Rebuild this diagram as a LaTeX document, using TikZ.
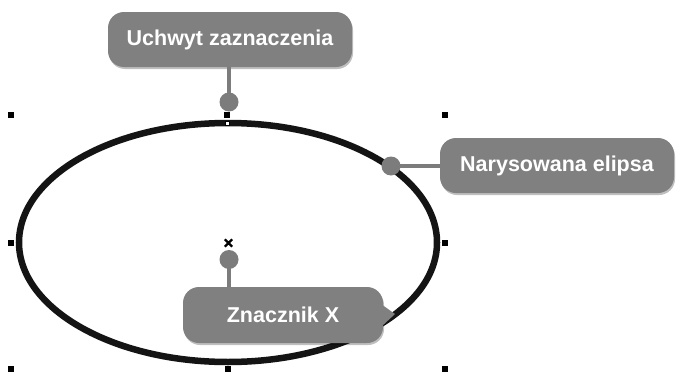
\documentclass[tikz,border=0pt]{standalone}
\usepackage{fontspec}
\setmainfont{Liberation Sans}
\usetikzlibrary{shadows}
\definecolor{callgray}{HTML}{808080}
\definecolor{linegray}{HTML}{7C7C7C}
\definecolor{inkblack}{HTML}{141414}
\tikzset{
  callout/.style={rectangle, rounded corners=16pt, fill=callgray, text=white,
    font=\fontsize{21.5}{24}\selectfont\bfseries, inner sep=0pt, align=center,
    drop shadow={shadow xshift=1pt, shadow yshift=-2pt, opacity=0.25, fill=black}},
  pin dot/.style={circle, fill=linegray, inner sep=0pt, minimum size=19pt},
  pin line/.style={draw=linegray, line width=4.5pt},
  handle/.style={rectangle, fill=black, inner sep=0pt, minimum size=6pt},
}
\begin{document}
\begin{tikzpicture}[x=1pt, y=-1pt]
\useasboundingbox (0,0) rectangle (677,372);
\fill[white] (0,0) rectangle (677,372);
% ellipse
\draw[inkblack, line width=6.5pt] (228,242.5) ellipse [x radius=209, y radius=119.5];
% selection handles
\foreach \n/\x/\y in {h1/11/115, h2/227/114.5, h3/445/115, h4/11/242.5, h5/445/242.5, h6/11/369, h7/228/369, h8/445/369}
  \node[handle] (\n) at (\x,\y) {};
\node[rectangle, fill=white, draw=black, line width=0.6pt, inner sep=0pt, minimum size=3.5pt] (tophandle) at (227.5,123.5) {};
% centre marker
\node[inner sep=0pt, minimum size=7pt] (xmark) at (228.5,243) {};
\draw[black, line width=2.2pt] (xmark.south west) -- (xmark.north east) (xmark.north west) -- (xmark.south east);
% callout A
\node[callout, minimum width=244pt, minimum height=55pt] (A) at (230,39.5) {Uchwyt zaznaczenia};
\node[pin dot] (dA) at (229,102) {};
\draw[pin line] (dA.center) -- (dA.center |- A.south);
% callout B
\node[callout, minimum width=234pt, minimum height=55pt] (B) at (557,165.5) {Narysowana elipsa};
\node[pin dot] (dB) at (391,166) {};
\draw[pin line] (dB.center) -- (dB.center -| B.west);
% callout C
\node[pin dot] (dC) at (229,259.5) {};
\coordinate (tailtip) at (395,314);
\node[callout, minimum width=200pt, minimum height=56pt] (C) at (283,315) {Znacznik X};
\draw[pin line] (dC.center) -- (dC.center |- C.north);
\fill[callgray] (381,304) -- (tailtip) -- (381,327) -- cycle;
\end{tikzpicture}
\end{document}
